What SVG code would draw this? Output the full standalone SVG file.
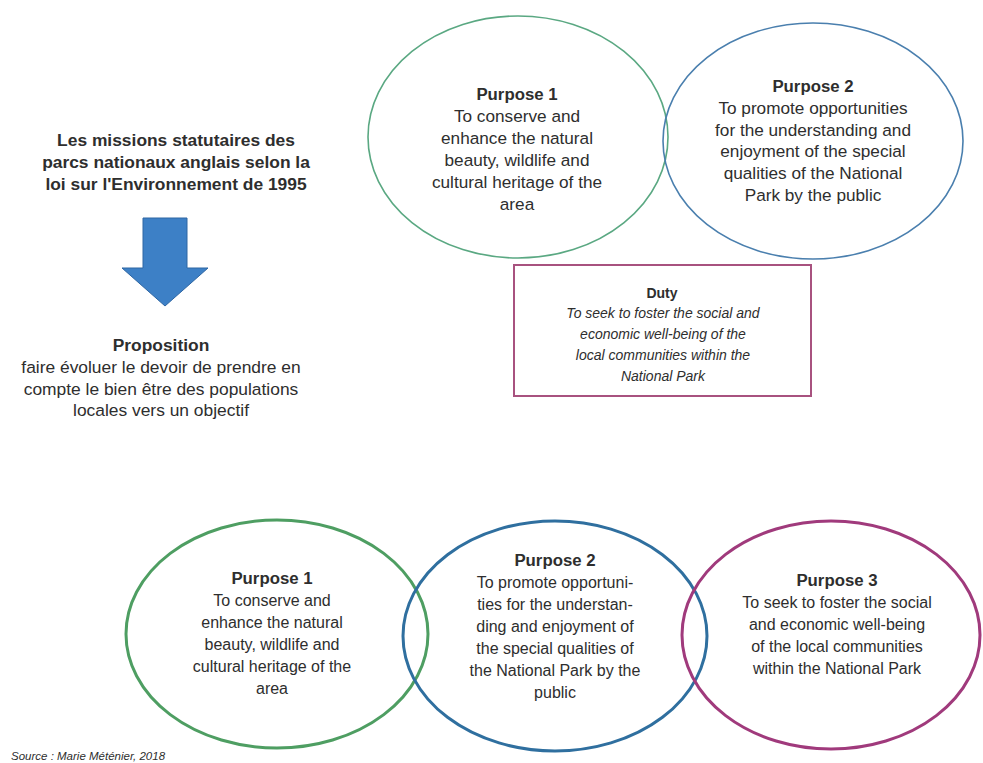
<svg xmlns="http://www.w3.org/2000/svg" width="983" height="763" viewBox="0 0 983 763">
<style>
text{font-family:"Liberation Sans","DejaVu Sans",sans-serif;fill:#2e2e2e;text-anchor:middle}
.l{font-size:17.4px}
.t{font-size:17.2px}
.s{font-size:16px}
.h{font-size:16.8px;font-weight:bold}
.b{font-weight:bold}
.it{font-style:italic;font-size:14px}
.thin{fill:none;stroke-width:1.6}
.thick{fill:none;stroke-width:3}
</style>
<rect width="983" height="763" fill="#ffffff"/>
<g id="title">
<text class="l b" x="176" y="146">Les missions statutaires des</text>
<text class="l b" x="176" y="168">parcs nationaux anglais selon la</text>
<text class="l b" x="176" y="190">loi  sur l'Environnement de 1995</text>
</g>
<g id="arrow">
<polygon points="143,218 187,218 187,268 208,268 165,306 122,268 143,268" fill="#3d80c6" stroke="#2e66a3" stroke-width="1"/>
</g>
<g id="proposition">
<text class="l b" x="161" y="351">Proposition</text>
<text class="l" x="161" y="373">faire évoluer le devoir de prendre en</text>
<text class="l" x="161" y="395">compte le bien être des populations</text>
<text class="l" x="161" y="416">locales vers un objectif</text>
</g>
<g id="top-purpose1">
<ellipse class="thin" cx="518" cy="137" rx="150" ry="121" stroke="#5aa882"/>
<text class="h" x="517" y="100">Purpose 1</text>
<text class="t" x="517" y="122">To conserve and</text>
<text class="t" x="517" y="144">enhance the natural</text>
<text class="t" x="517" y="166">beauty, wildlife and</text>
<text class="t" x="517" y="188">cultural heritage of the</text>
<text class="t" x="517" y="210">area</text>
</g>
<g id="top-purpose2">
<ellipse class="thin" cx="813" cy="141" rx="150" ry="118" stroke="#4a7fae"/>
<text class="h" x="813" y="92">Purpose 2</text>
<text class="t" x="813" y="114">To promote opportunities</text>
<text class="t" x="813" y="136">for the understanding and</text>
<text class="t" x="813" y="157">enjoyment of the special</text>
<text class="t" x="813" y="179">qualities of the National</text>
<text class="t" x="813" y="201">Park by the public</text>
</g>
<g id="duty">
<rect x="514" y="265" width="297" height="131" fill="none" stroke="#a8527f" stroke-width="2"/>
<text class="b" font-size="14" x="662" y="298">Duty</text>
<text class="it" x="663" y="318">To seek to foster the social and</text>
<text class="it" x="663" y="339">economic well-being of the</text>
<text class="it" x="663" y="360">local communities within the</text>
<text class="it" x="663" y="381">National Park</text>
</g>
<g id="bottom-purpose1">
<ellipse class="thick" cx="277" cy="634" rx="151" ry="114" stroke="#4e9e62"/>
<text class="h" x="272" y="584">Purpose 1</text>
<text class="s" x="272" y="606">To conserve and</text>
<text class="s" x="272" y="628">enhance the natural</text>
<text class="s" x="272" y="650">beauty, wildlife and</text>
<text class="s" x="272" y="672">cultural heritage of the</text>
<text class="s" x="272" y="694">area</text>
</g>
<g id="bottom-purpose2">
<ellipse class="thick" cx="555" cy="636" rx="152" ry="115" stroke="#2f6f9f"/>
<text class="h" x="555" y="566">Purpose 2</text>
<text class="s" x="555" y="588">To promote opportuni-</text>
<text class="s" x="555" y="610">ties for the understan-</text>
<text class="s" x="555" y="632">ding and enjoyment of</text>
<text class="s" x="555" y="654">the special qualities of</text>
<text class="s" x="555" y="676">the National Park by the</text>
<text class="s" x="555" y="698">public</text>
</g>
<g id="bottom-purpose3">
<ellipse class="thick" cx="831" cy="635" rx="149" ry="114" stroke="#a03a7c"/>
<text class="h" x="837" y="586">Purpose 3</text>
<text class="s" x="837" y="608">To seek to foster the social</text>
<text class="s" x="837" y="630">and economic well-being</text>
<text class="s" x="837" y="652">of the local communities</text>
<text class="s" x="837" y="674">within the National Park</text>
</g>
<g id="source">
<text x="11" y="760" font-size="11.5" font-style="italic" fill="#555" style="text-anchor:start">Source : Marie Méténier, 2018</text>
</g>
<g id="connectors"/>
</svg>
